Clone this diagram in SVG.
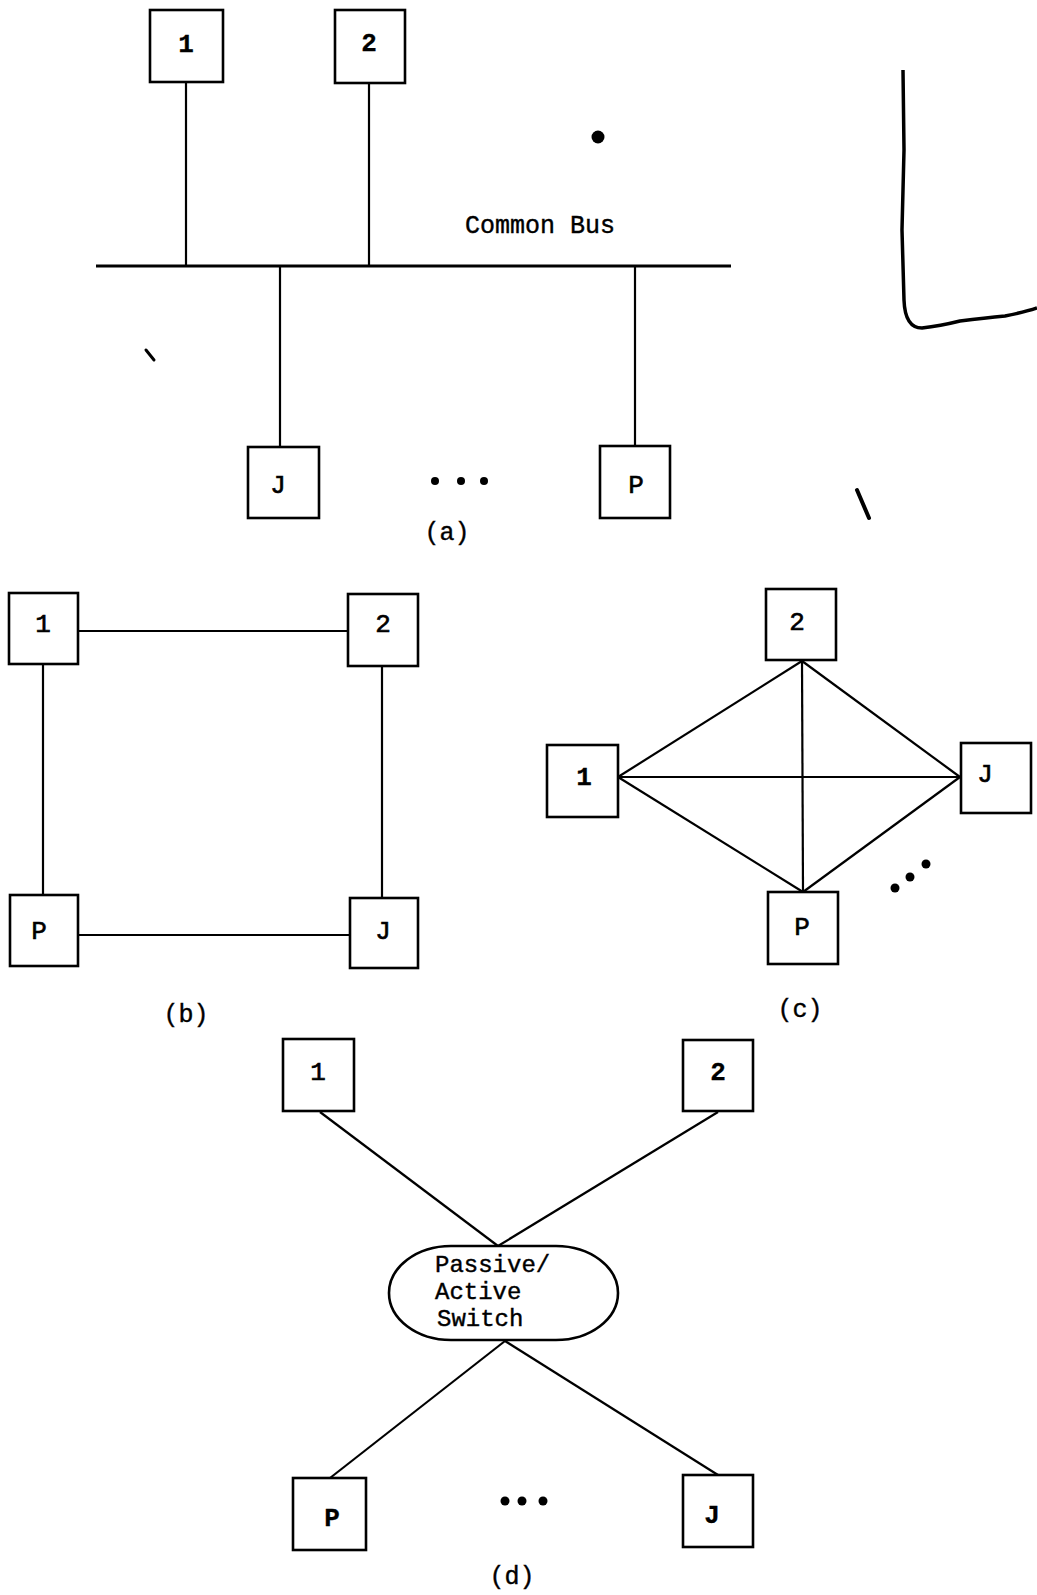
<svg xmlns="http://www.w3.org/2000/svg" width="1037" height="1595" viewBox="0 0 1037 1595">
<style>
.box{fill:#fff;stroke:#000;stroke-width:2.6}
.ln{stroke:#000;stroke-width:2.2;fill:none}
.t{font-family:"Liberation Mono","DejaVu Sans Mono",monospace;font-size:26px;fill:#000;stroke:#000;stroke-width:0.6;text-anchor:middle;dominant-baseline:central}
.tb{font-weight:bold;stroke-width:0.3}
.lbl{font-family:"Liberation Mono","DejaVu Sans Mono",monospace;font-size:25px;fill:#000;stroke:#000;stroke-width:0.4;text-anchor:middle}
.sw{font-family:"Liberation Mono","DejaVu Sans Mono",monospace;font-size:24px;fill:#000;stroke:#000;stroke-width:0.4}
.dot{fill:#000}
.spk{fill:none;stroke:#000;stroke-linecap:round}
</style>
<rect width="1037" height="1595" fill="#fff"/>
<g id="connectors">
<line class="ln" x1="96" y1="266" x2="731" y2="266" style="stroke-width:2.8"/>
<line class="ln" x1="186" y1="83" x2="186" y2="266"/>
<line class="ln" x1="369" y1="83" x2="369" y2="266"/>
<line class="ln" x1="280" y1="266" x2="280" y2="447"/>
<line class="ln" x1="635" y1="266" x2="635" y2="446"/>
<line class="ln" x1="78" y1="631" x2="348" y2="631"/>
<line class="ln" x1="43" y1="664" x2="43" y2="895"/>
<line class="ln" x1="382" y1="666" x2="382" y2="898"/>
<line class="ln" x1="78" y1="935" x2="350" y2="935"/>
<line class="ln" x1="618" y1="777" x2="802" y2="661"/>
<line class="ln" x1="802" y1="661" x2="960" y2="777"/>
<line class="ln" x1="618" y1="777" x2="960" y2="777"/>
<line class="ln" x1="802" y1="661" x2="803" y2="892"/>
<line class="ln" x1="618" y1="777" x2="803" y2="892"/>
<line class="ln" x1="960" y1="777" x2="803" y2="892"/>
<line class="ln" x1="320" y1="1112" x2="498" y2="1246"/>
<line class="ln" x1="718" y1="1112" x2="498" y2="1246"/>
<line class="ln" x1="505" y1="1341" x2="330" y2="1478"/>
<line class="ln" x1="505" y1="1341" x2="718" y2="1475"/>
</g>
<g id="a1"><rect class="box" x="150" y="10" width="73" height="72"/><text class="t tb" x="186" y="45">1</text></g>
<g id="a2"><rect class="box" x="335" y="10" width="70" height="73"/><text class="t tb" x="369" y="44">2</text></g>
<g id="aJ"><rect class="box" x="248" y="447" width="71" height="71"/><text class="t" x="278" y="486">J</text></g>
<g id="aP"><rect class="box" x="600" y="446" width="70" height="72"/><text class="t" x="636" y="486">P</text></g>
<g id="abus"><text class="lbl" x="540" y="233">Common Bus</text></g>
<g id="adots"><circle class="dot" cx="435" cy="481" r="4"/><circle class="dot" cx="461" cy="481" r="4"/><circle class="dot" cx="484" cy="481" r="4"/></g>
<text class="lbl" x="447" y="540">(a)</text>
<g id="b1"><rect class="box" x="9" y="593" width="69" height="71"/><text class="t" x="43" y="625">1</text></g>
<g id="b2"><rect class="box" x="348" y="594" width="70" height="72"/><text class="t" x="383" y="625">2</text></g>
<g id="bP"><rect class="box" x="10" y="895" width="68" height="71"/><text class="t" x="39" y="932">P</text></g>
<g id="bJ"><rect class="box" x="350" y="898" width="68" height="70"/><text class="t" x="383" y="932">J</text></g>
<text class="lbl" x="186" y="1022">(b)</text>
<g id="c2"><rect class="box" x="766" y="589" width="70" height="71"/><text class="t" x="797" y="623">2</text></g>
<g id="c1"><rect class="box" x="547" y="745" width="71" height="72"/><text class="t tb" x="584" y="778">1</text></g>
<g id="cJ"><rect class="box" x="961" y="743" width="70" height="70"/><text class="t" x="985" y="775">J</text></g>
<g id="cP"><rect class="box" x="768" y="892" width="70" height="72"/><text class="t" x="802" y="928">P</text></g>
<g id="cdots"><circle class="dot" cx="895" cy="888" r="4.5"/><circle class="dot" cx="910" cy="877" r="4.5"/><circle class="dot" cx="926" cy="864" r="4.5"/></g>
<text class="lbl" x="800" y="1017">(c)</text>
<g id="d1"><rect class="box" x="283" y="1039" width="71" height="72"/><text class="t" x="318" y="1073">1</text></g>
<g id="d2"><rect class="box" x="683" y="1040" width="70" height="71"/><text class="t tb" x="718" y="1073">2</text></g>
<g id="dsw"><rect class="box" x="389" y="1246" width="229" height="94" rx="62" ry="47"/>
<text class="sw" x="435" y="1272">Passive/</text><text class="sw" x="435" y="1299">Active</text><text class="sw" x="437" y="1326">Switch</text></g>
<g id="dP"><rect class="box" x="293" y="1478" width="73" height="72"/><text class="t tb" x="332" y="1519">P</text></g>
<g id="dJ"><rect class="box" x="683" y="1475" width="70" height="72"/><text class="t tb" x="712" y="1516">J</text></g>
<g id="ddots"><circle class="dot" cx="505" cy="1501" r="4.5"/><circle class="dot" cx="522" cy="1501" r="4.5"/><circle class="dot" cx="543" cy="1501" r="4.5"/></g>
<text class="lbl" x="512" y="1584">(d)</text>
<path d="M903,70 L904,150 L902,230 L904,300 Q905,328 922,328 Q940,326 960,321 Q985,318 1005,316 Q1025,312 1037,308" fill="none" stroke="#000" stroke-width="3.5"/>
<circle class="dot" cx="598" cy="137" r="6.5"/>
<line class="spk" x1="857" y1="490" x2="869" y2="518" stroke-width="4"/>
<line class="spk" x1="146" y1="350" x2="154" y2="360" stroke-width="3"/>
</svg>
